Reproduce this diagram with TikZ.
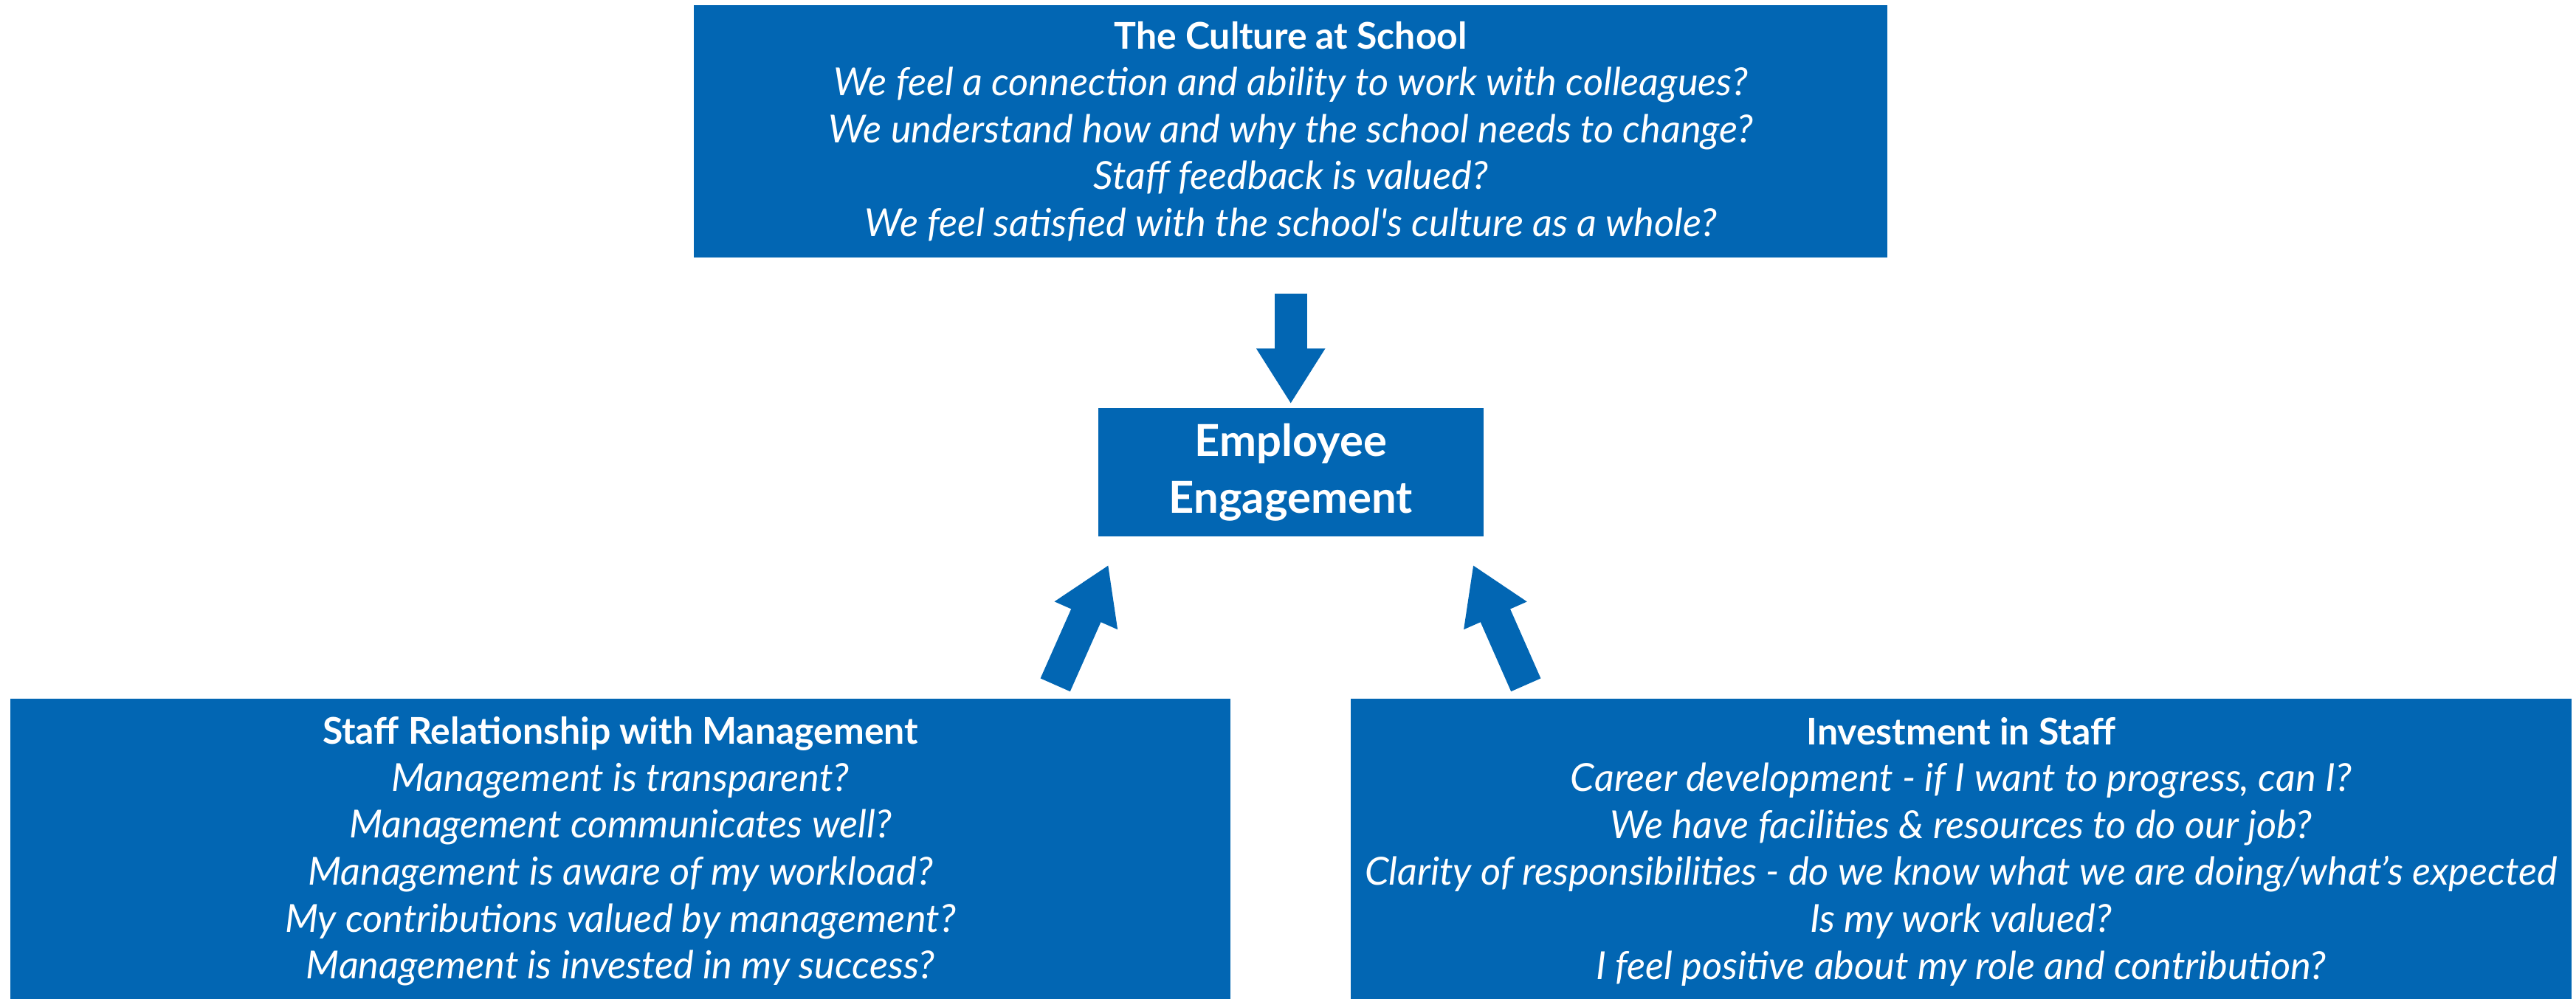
\documentclass[tikz,border=0pt]{standalone}
\usepackage{fontspec}
\setmainfont{Lato}
\usetikzlibrary{arrows.meta}
\definecolor{boxblue}{HTML}{0266B3}
% italic question lines, set a little wider than the titles
\newcommand{\qline}[1]{{\fontsize{14.9}{18.1}\selectfont\itshape #1}}

\begin{document}
\begin{tikzpicture}[node font=\fontsize{14.2}{18.1}\selectfont,
	box/.style={fill=boxblue,text=white,align=center,inner sep=0pt},
	bigarrow/.style={boxblue,line width=0.44cm,-{Triangle[length=0.75cm,width=0.88cm]}}]
	\useasboundingbox (0,0) rectangle (34.90,13.53);
	
	\node[box,minimum width=16.17cm,minimum height=3.42cm] (culture) at (17.487,11.75)
		{\textbf{The Culture at School}\\
		\qline{We feel a connection and ability to work with colleagues?}\\
		\qline{We understand how and why the school needs to change?}\\
		\qline{Staff feedback is valued?}\\
		\qline{We feel satisfied with the school\textquotesingle s culture as a whole?}};
	\node[box,minimum width=5.22cm,minimum height=1.74cm,font=\fontsize{17}{21.8}\selectfont\bfseries] (engage) at (17.487,7.13)
		{Employee\\Engagement};
	\node[box,minimum width=16.53cm,minimum height=4.14cm] (relation) at (8.405,1.99)
		{\textbf{Staff Relationship with Management}\\
		\qline{Management is transparent?}\\
		\qline{Management communicates well?}\\
		\qline{Management is aware of my workload?}\\
		\qline{My contributions valued by management?}\\
		\qline{Management is invested in my success?}};
	\node[box,minimum width=16.535cm,minimum height=4.14cm] (invest) at (26.5675,1.99)
		{\textbf{Investment in Staff}\\
		\qline{Career development - if I want to progress, can I?}\\
		\qline{We have facilities \& resources to do our job?}\\
		\qline{Clarity of responsibilities - do we know what we are doing/what’s expected}\\
		\qline{Is my work valued?}\\
		\qline{I feel positive about my role and contribution?}};
	
	\draw[bigarrow,shorten <=0.48cm,shorten >=0.05cm] (culture) -- (engage);
	\draw[bigarrow] ([shift={(-2.38,0.18)}]relation.north east) -- ([shift={(0.147,-0.38)}]engage.south west);
	\draw[bigarrow] ([shift={(2.38,0.18)}]invest.north west) -- ([shift={(-0.147,-0.38)}]engage.south east);
\end{tikzpicture}
\end{document}
